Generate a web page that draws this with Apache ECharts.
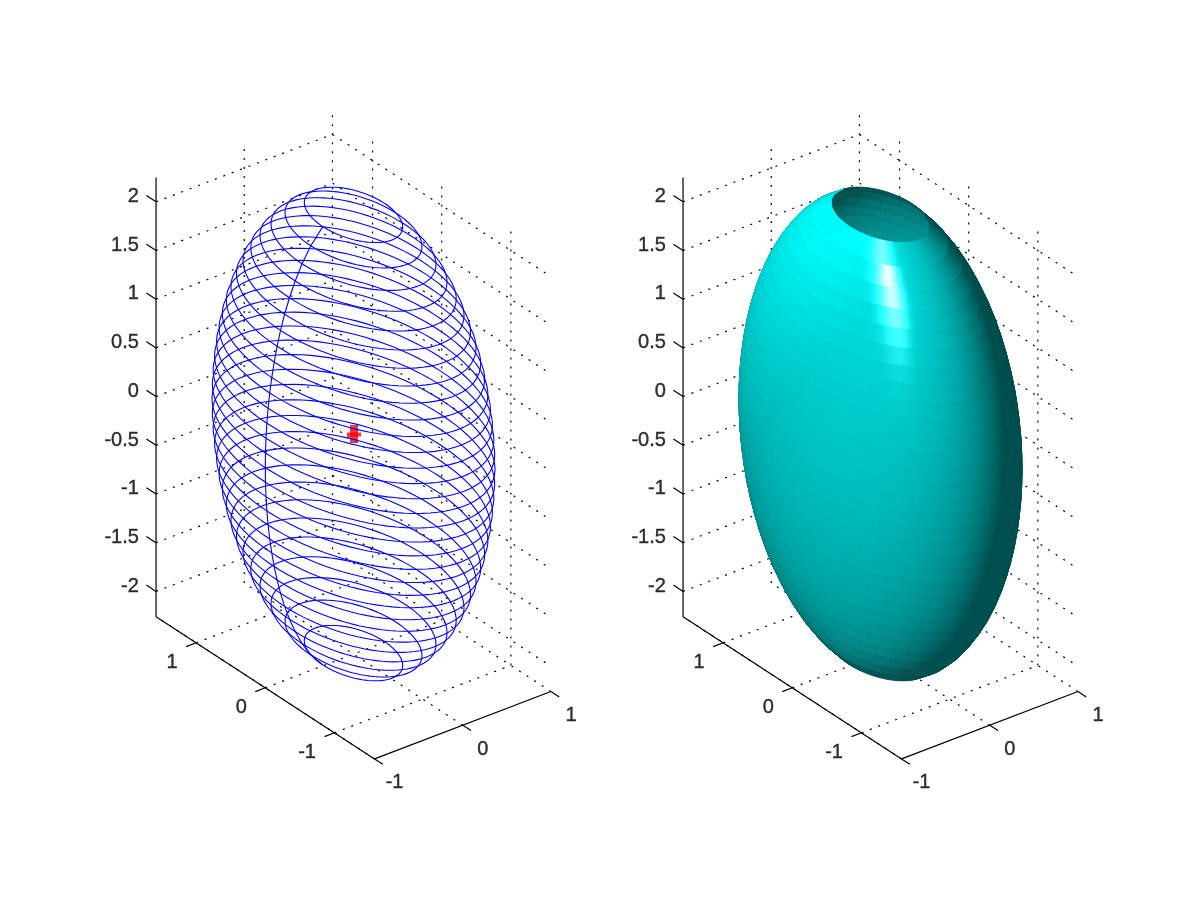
<!DOCTYPE html>
<html lang="en">
<head>
    <meta charset="utf-8">
    <title>Ellipsoid wireframe and surface</title>
    <script src="https://cdn.jsdelivr.net/npm/echarts@6/dist/echarts.min.js"></script>
    <style>
        html, body { margin: 0; background: #fff; }
        #chart { width: 1200px; height: 900px; }
    </style>
</head>
<body>
    <div id="chart"></div>
    <script>
        // Tick labels of the three axes
        const xTicks = [-1, 0, 1];
        const yTicks = [1, 0, -1];
        const zTicks = [2, 1.5, 1, 0.5, 0, -0.5, -1, -1.5, -2];

        // Axis limits read from the box
        const xLimit = [-1, 1];
        const yLimit = [-1.58, 1.58];
        const zLimit = [-2.26, 2.25];

        // Height of each ring along z and its size relative to the equator, top to bottom
        const ringZ = [2.25, 2.1, 1.95, 1.8, 1.65, 1.5, 1.35, 1.2, 1.05, 0.9, 0.75, 0.6, 0.45, 0.3, 0.15, 0,
            -0.15, -0.3, -0.45, -0.6, -0.75, -0.9, -1.05, -1.2, -1.35, -1.5, -1.65, -1.8, -1.95, -2.1, -2.25];
        const ringSize = [0.348, 0.484, 0.583, 0.661, 0.726, 0.781, 0.827, 0.866, 0.899, 0.927, 0.95, 0.968, 0.982, 0.992, 0.998, 1,
            0.998, 0.992, 0.982, 0.968, 0.95, 0.927, 0.899, 0.866, 0.827, 0.781, 0.726, 0.661, 0.583, 0.484, 0.348];

        // Semi axes at the equator
        const semiX = 1;
        const semiY = 1.6;
        const semiZ = 2.4;
        const center = [0, 0, 0];

        // View: 3D unit vectors on screen, az -37.5 el 30
        const right = [0.7847, -0.6152, 0];
        const up = [0.2998, 0.4004, 0.8665];
        const toCamera = [-0.5345, -0.682, 0.5];
        const lightDir = [-0.47, 0.31, 0.826];
        const fillDir = [-0.6, 0.75, 0.25];
        const highlightNormal = [-0.27, 0.15];

        const PX = 112.4;
        const gridW = 560, gridH = 800;
        const H = gridW / 2 / PX, V = gridH / 2 / PX;
        const SEGMENTS = 96;
        const SURFACE_SEGMENTS = 240;

        const dot = (a, b) => a[0] * b[0] + a[1] * b[1] + a[2] * b[2];
        const project = p => [dot(p, right), dot(p, up)];

        function ringPoint(i, t) {
            return [semiX * ringSize[i] * Math.cos(t), semiY * ringSize[i] * Math.sin(t), ringZ[i]];
        }

        function lineSeries(points, gridIndex, color, width, type, z) {
            return {
                type: 'line', xAxisIndex: gridIndex, yAxisIndex: gridIndex,
                data: points.map(project),
                showSymbol: false, silent: true, z: z,
                lineStyle: { color: color, width: width, type: type }
            };
        }

        function labelSeries(points, texts, gridIndex, position, offset) {
            return {
                type: 'scatter', xAxisIndex: gridIndex, yAxisIndex: gridIndex,
                data: points.map(project),
                symbolSize: 1, silent: true, z: 6,
                itemStyle: { color: 'transparent' },
                label: {
                    show: true, position: position, offset: offset,
                    color: '#000', fontFamily: 'Liberation Sans', fontSize: 20,
                    textBorderColor: '#000', textBorderWidth: 0.4,
                    formatter: p => String(texts[p.dataIndex])
                }
            };
        }

        // Box, grid lines, ticks and labels of one panel
        function boxSeries(g) {
            const out = [];
            const dots = [2, 7];
            const [x0, x1] = xLimit, [y0, y1] = yLimit, [z0, z1] = zLimit;
            zTicks.forEach(z => {
                out.push(lineSeries([[x0, y1, z], [x1, y1, z], [x1, y0, z]], g, '#000', 1.2, dots, 1));
                out.push(lineSeries([[x0, y1, z], [x0, y1 + 0.14, z]], g, '#000', 1.2, 'solid', 5));
            });
            xTicks.forEach(x => {
                if (x > x0) out.push(lineSeries([[x, y1, z0], [x, y1, z1]], g, '#000', 1.2, dots, 1));
                out.push(lineSeries([[x, y0, z0], [x, y1, z0]], g, '#000', 1.2, dots, 1));
                out.push(lineSeries([[x, y0, z0], [x, y0 - 0.12, z0]], g, '#000', 1.2, 'solid', 5));
            });
            yTicks.forEach(y => {
                out.push(lineSeries([[x1, y, z0], [x1, y, z1]], g, '#000', 1.2, dots, 1));
                out.push(lineSeries([[x0, y, z0], [x1, y, z0]], g, '#000', 1.2, dots, 1));
                out.push(lineSeries([[x0, y, z0], [x0 - 0.113, y, z0]], g, '#000', 1.2, 'solid', 5));
            });
            out.push(lineSeries([[x0, y1, z1], [x0, y1, z0], [x0, y0, z0], [x1, y0, z0]], g, '#000', 1.2, 'solid', 5));

            out.push(labelSeries(zTicks.map(z => [x0, y1 + 0.14, z]), zTicks, g, 'left', [-2, 1]));
            out.push(labelSeries(xTicks.map(x => [x, y0, z0]), xTicks, g, 'inside', [20, 24]));
            out.push(labelSeries(yTicks.map(y => [x0, y, z0]), yTicks, g, 'left', [-13, 20]));
            return out;
        }

        // Wire panel: every ring plus the one meridian at the seam
        function wireSeries(g) {
            const out = [];
            ringZ.forEach((z, i) => {
                const pts = [];
                for (let k = 0; k <= SEGMENTS; k++) pts.push(ringPoint(i, Math.PI + k / SEGMENTS * 2 * Math.PI));
                out.push(lineSeries(pts, g, '#0000ff', 1.1, 'solid', 3));
            });
            out.push(lineSeries(ringZ.map((z, i) => ringPoint(i, Math.PI)), g, '#0000ff', 1.1, 'solid', 3));
            return out;
        }

        function markerSeries(g, size, offset) {
            return {
                type: 'scatter', xAxisIndex: g, yAxisIndex: g,
                data: [project(center)],
                symbol: 'rect', symbolSize: size, symbolOffset: offset, silent: true, z: 2,
                itemStyle: { color: '#ff0000' }
            };
        }

        function shadeOf(n) {
            const view = [dot(n, right), dot(n, up), dot(n, toCamera)];
            const nl = dot(view, lightDir);
            const boost = 0.4 * Math.max(dot(view, fillDir) - 0.5, 0);
            const diffuse = 0.3 + 0.6 * Math.max(nl, 0) + boost;
            // highlight stretched along the long axis, the way the reference streak runs
            const dh = (view[0] - highlightNormal[0]) / 0.1, dv = (view[1] - highlightNormal[1]) / 0.2;
            const spec = view[2] > 0 ? 0.95 * Math.exp(-dh * dh - dv * dv) : 0;
            return [spec, Math.min(1, diffuse + spec)];
        }

        // Surface panel: one quad per ring gap and angle step, inside walls first
        function surfaceSeries(g) {
            const back = [], front = [];
            for (let i = 0; i < ringZ.length - 1; i++) {
                for (let k = 0; k < SURFACE_SEGMENTS; k++) {
                    const t0 = k / SURFACE_SEGMENTS * 2 * Math.PI, t1 = (k + 1) / SURFACE_SEGMENTS * 2 * Math.PI;
                    const tm = (t0 + t1) / 2;
                    const a = ringPoint(i, t0), b = ringPoint(i, t1), c = ringPoint(i + 1, t1), d = ringPoint(i + 1, t0);
                    const zm = (ringZ[i] + ringZ[i + 1]) / 2, sm = (ringSize[i] + ringSize[i + 1]) / 2;
                    const n = [Math.cos(tm) * sm / semiX, Math.sin(tm) * sm / semiY, zm / (semiZ * semiZ)];
                    const len = Math.sqrt(dot(n, n));
                    let nn = n.map(v => v / len);
                    const facing = dot(nn, toCamera) > 0;
                    if (!facing) nn = nn.map(v => -v);
                    const [spec, lum] = facing ? shadeOf(nn) : [0, shadeOf(nn)[1]];
                    const flat = [a, b, c, d].map(project);
                    const row = [flat[0][0], flat[0][1], flat[1][0], flat[1][1], flat[2][0], flat[2][1], flat[3][0], flat[3][1], spec, lum];
                    (facing ? front : back).push(row);
                }
            }
            return {
                type: 'custom', xAxisIndex: g, yAxisIndex: g,
                coordinateSystem: 'cartesian2d', silent: true, z: 3,
                data: back.concat(front),
                encode: { x: [0, 2, 4, 6], y: [1, 3, 5, 7] },
                renderItem: (params, api) => {
                    const pts = [0, 2, 4, 6].map(j => api.coord([api.value(j), api.value(j + 1)]));
                    const r = Math.round(255 * Math.min(1, api.value(8)));
                    const gb = Math.round(255 * api.value(9));
                    const color = 'rgb(' + r + ',' + gb + ',' + gb + ')';
                    return {
                        type: 'polygon',
                        shape: { points: pts },
                        style: { fill: color, stroke: color, lineWidth: 0.7 }
                    };
                }
            };
        }

        const series = [
            ...boxSeries(0), ...boxSeries(1),
            markerSeries(0, [8, 18], [0.5, 0]), markerSeries(0, [14, 4], [0.5, 0.5]),
            ...wireSeries(0),
            surfaceSeries(1)
        ];

        const grids = [73.5, 600.5].map(left => ({ left: left, top: 34, width: gridW, height: gridH }));
        const hiddenAxis = range => ({ type: 'value', min: -range, max: range, show: false });

        const chart = echarts.init(document.getElementById('chart'));
        chart.setOption({
            animation: false,
            backgroundColor: '#fff',
            grid: grids,
            xAxis: grids.map((g, i) => ({ ...hiddenAxis(H), gridIndex: i })),
            yAxis: grids.map((g, i) => ({ ...hiddenAxis(V), gridIndex: i })),
            series: series
        });
    </script>
</body>
</html>
